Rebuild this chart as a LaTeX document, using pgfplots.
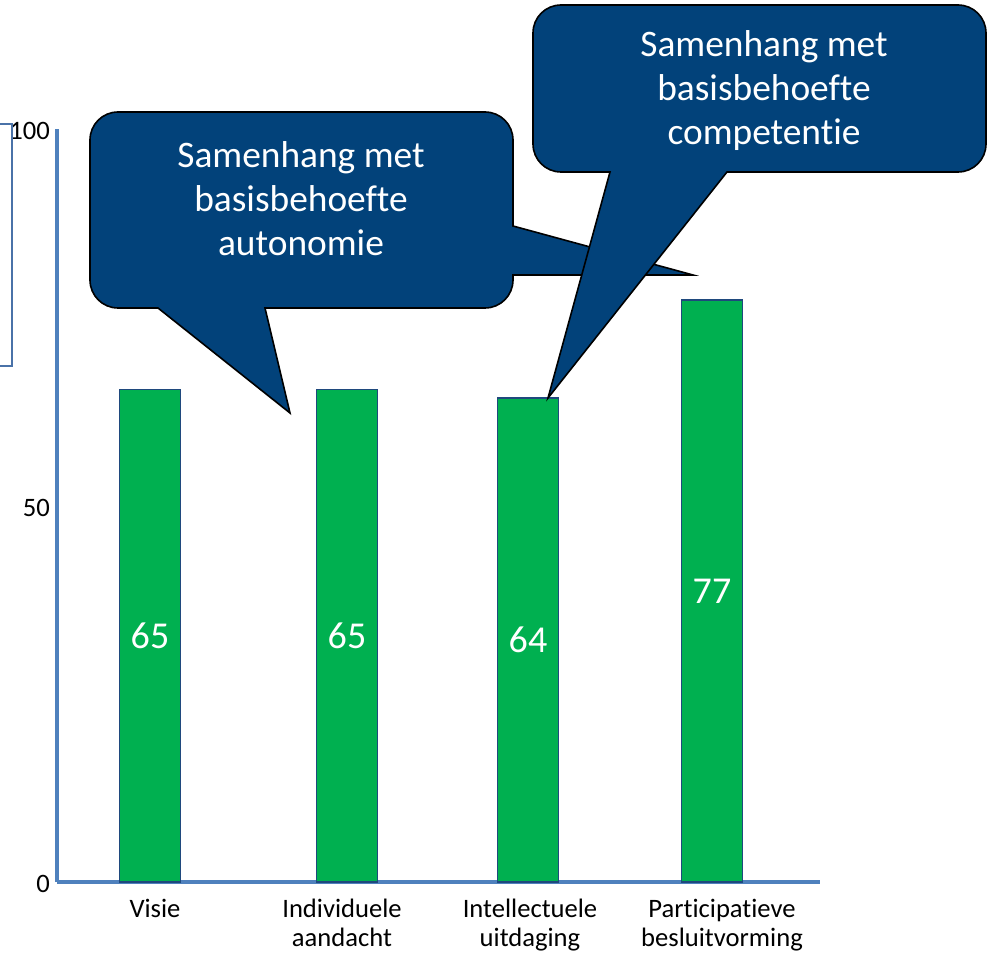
\documentclass[border=0pt]{standalone}
\usepackage{pgfplots}
\pgfplotsset{compat=1.18}
\usepackage{fontspec}
\setmainfont{Carlito}[Ligatures={NoCommon}]
\definecolor{barfill}{HTML}{00B050}
\definecolor{baredge}{HTML}{1F497D}
\definecolor{axblue}{HTML}{4F81BD}
\definecolor{callout}{HTML}{02427A}
\definecolor{boxblue}{HTML}{4A72A8}
\begin{document}
\begin{tikzpicture}
\useasboundingbox (0,0) rectangle (493.5pt,477.5pt);
\begin{axis}[
  at={(28.5pt,36.5pt)}, anchor=south west,
  scale only axis, width=381.5pt, height=376.5pt,
  xmin=57, xmax=820, ymin=0, ymax=100,
  axis lines=left,
  axis line style={-, draw=axblue, line width=2pt},
  every outer x axis line/.append style={-},
  every outer y axis line/.append style={-},
  major tick length=0pt,
  ytick={0,50,100},
  xtick={155,342,530,722},
  xticklabels={Visie, Individuele\\aandacht, Intellectuele\\uitdaging, Participatieve\\besluitvorming},
  /pgf/number format/assume math mode=true,
  tick label style={font=\fontsize{13.3}{14.6}\selectfont, text=black},
  yticklabel style={yshift=-1pt},
  xticklabel style={align=center, yshift=-5pt},
  clip=false,
]
\addplot[ybar, bar width=30.5pt, bar shift=0pt, fill=barfill, draw=baredge, line width=0.8pt]
  coordinates {(150,65.4) (347,65.4) (528,64.3) (712,77.3)};
\addplot[draw=none, mark=none, nodes near coords, point meta=explicit symbolic,
  every node near coord/.append style={anchor=center, text=white, font=\fontsize{19}{22}\selectfont}]
  coordinates {(150,32.7)[65] (347,32.7)[65] (528,32.15)[64] (712,38.65)[77]};
\end{axis}
\begin{scope}[x=0.5pt,y=-0.5pt,shift={(0pt,477.5pt)}]
\draw[boxblue, line width=0.75pt] (0,124) -- (12,124) -- (12,366) -- (0,366);
\filldraw[fill=callout, draw=black, line width=0.8pt]
  (118,112) -- (485,112) .. controls (500.5,112) and (513,124.5) .. (513,140)
  -- (513,226) -- (693,275) -- (513,275) -- (513,280)
  .. controls (513,295.5) and (500.5,308) .. (485,308)
  -- (265,308) -- (290,413) -- (158,308) -- (118,308)
  .. controls (102.5,308) and (90,295.5) .. (90,280)
  -- (90,140) .. controls (90,124.5) and (102.5,112) .. (118,112) -- cycle;
\node[align=center, text=white, font=\fontsize{18.7}{22}\selectfont] at (301,199) {Samenhang met\\basisbehoefte\\autonomie};
\filldraw[fill=callout, draw=black, line width=0.8pt]
  (561,5) -- (958,5) .. controls (973.5,5) and (986,17.5) .. (986,33)
  -- (986,144) .. controls (986,159.5) and (973.5,172) .. (958,172)
  -- (727,172) -- (548,398) -- (610,172) -- (561,172)
  .. controls (545.5,172) and (533,159.5) .. (533,144)
  -- (533,33) .. controls (533,17.5) and (545.5,5) .. (561,5) -- cycle;
\node[align=center, text=white, font=\fontsize{18.7}{22}\selectfont] at (764,91) {Samenhang met\\basisbehoefte\\competentie};
\end{scope}
\end{tikzpicture}
\end{document}
